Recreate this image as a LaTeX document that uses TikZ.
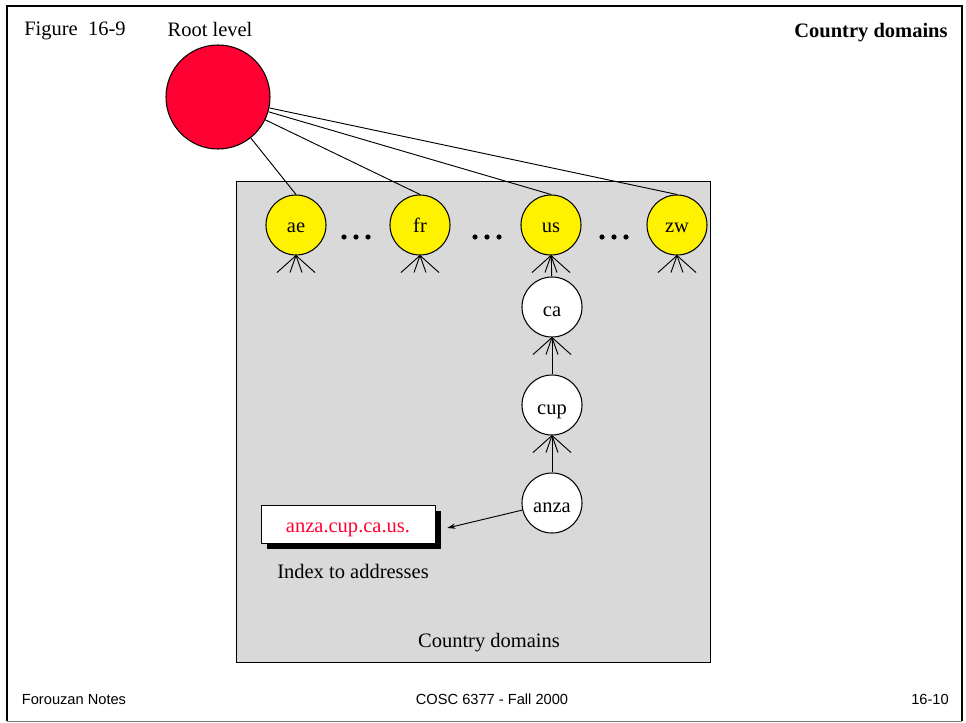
\documentclass[tikz,border=0pt]{standalone}
\usepackage{fontspec}
\setmainfont{Liberation Serif}
\setsansfont{Liberation Sans}
\usetikzlibrary{arrows.meta}
\usetikzlibrary{calc}
\usetikzlibrary{shadows}
\definecolor{rootred}{RGB}{255,0,51}
\definecolor{boxgray}{RGB}{217,217,217}

\begin{document}
\begin{tikzpicture}[x=0.03cm, y=-0.03cm,
	every node/.style={font=\fontsize{17.5}{21}\selectfont},
	tld/.style={circle, draw, line width=0.9pt, fill=yellow, minimum size=1.8cm, inner sep=0pt,
		text height=12pt, text depth=0pt},
	sub/.style={circle, draw, line width=0.9pt, fill=white, minimum size=1.8cm, inner sep=0pt,
		text height=17pt, text depth=0pt},
	foot/.style={font=\sffamily\fontsize{12.5}{14}\selectfont, anchor=base}]
	\useasboundingbox (0,0) rectangle (966,723);
	
	% slide frame
	\draw[line width=1.6pt] (7,721) -- (7,6) -- (962,6) -- (962,721);
	\draw[gray] (7,721) -- (962,721);
	
	\node (fig) at (75,31) {Figure\ \ 16-9};
	\node (rootlbl) at (210,29) {Root level};
	\node[font=\fontsize{17.5}{21}\selectfont\bfseries] (title) at (871,33) {Country domains};
	
	% country domain area
	\draw[fill=boxgray, line width=0.8pt] (236,181) rectangle (710,662);
	\node (area) at (489,643) {Country domains};
	
	\node[tld] (ae) at (296,225) {ae};
	\node[tld] (fr) at (420,225) {fr};
	\node[tld] (us) at (551,225) {us};
	\node[tld] (zw) at (677,225) {zw};
	
	\foreach \x in {356,487,614}
		\foreach \dx in {-12,0,12}
			\fill (\x+\dx,237) circle(2.6);
	
	\node[circle, draw, line width=0.9pt, fill=rootred, minimum size=3.12cm] (root) at (218,97) {};
	\foreach \n in {ae,fr,us,zw}
		\draw[line width=0.8pt] (root) -- (\n.north);
	
	\node[sub] (ca) at (552,307) {ca};
	\node[sub] (cup) at (552,405) {cup};
	\node[sub] (anza) at (552,503) {anza};
	
	\draw[line width=0.8pt] (ca) -- (us);
	\draw[line width=0.8pt] (cup) -- (ca);
	\draw[line width=0.8pt] (anza) -- (cup);
	
	% crow feet
	\foreach \n in {ae,fr,us,zw,ca,cup}
		\foreach \dx in {-19,-6,6,19}
			\draw[line width=0.8pt] (\n.south) -- ++(\dx,17);
	
	\node[draw, fill=white, text=rootred, minimum width=5.22cm, minimum height=1.14cm,
		text height=14pt, text depth=0pt,
		drop shadow={shadow xshift=5pt, shadow yshift=-5pt, fill=black, opacity=1}] (idx) at (348,524) {anza.cup.ca.us.};
	\node (idxlbl) at (353,571) {Index to addresses};
	\coordinate (tip) at ($(idx.east)+(12,4)$);
	\draw[line width=0.8pt, -{Stealth[length=7pt, width=4.5pt]}] (anza) -- (tip);
	
	\node[foot] (notes) at (74,704) {Forouzan Notes};
	\node[foot] (course) at (492,704) {COSC 6377 - Fall 2000};
	\node[foot] (page) at (930,704) {16-10};
\end{tikzpicture}
\end{document}
